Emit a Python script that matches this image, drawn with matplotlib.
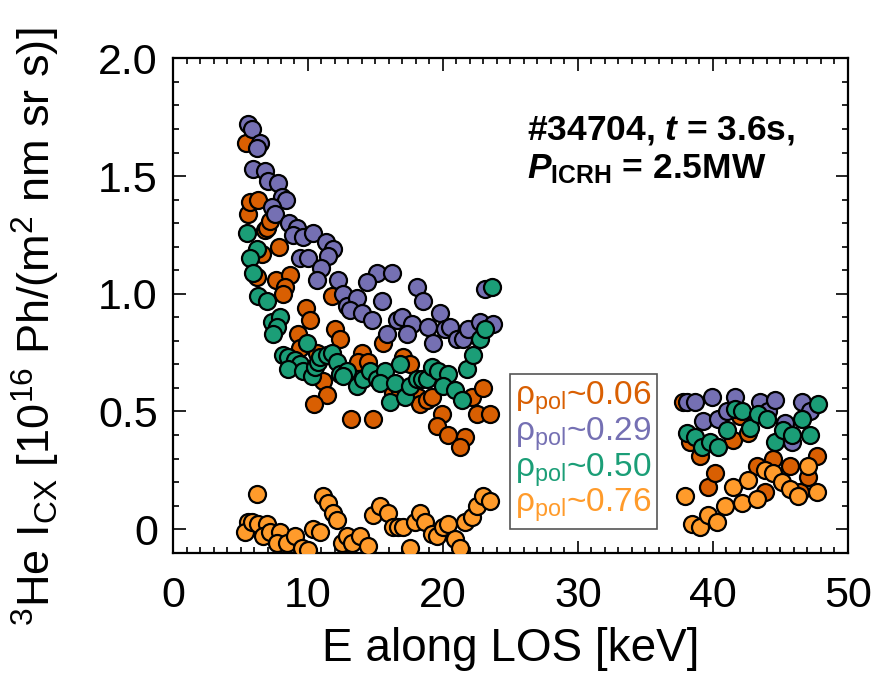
import matplotlib

matplotlib.use("Agg")
import matplotlib.pyplot as plt
from matplotlib.lines import Line2D
from matplotlib.ticker import MultipleLocator, FixedFormatter, FixedLocator

plt.rcParams["font.family"] = ["Liberation Sans", "DejaVu Sans"]
plt.rcParams["mathtext.fontset"] = "custom"
plt.rcParams["mathtext.rm"] = "Liberation Sans"
plt.rcParams["mathtext.it"] = "Liberation Sans:italic:bold"
plt.rcParams["mathtext.bf"] = "Liberation Sans:bold"

# rho_pol ~ 0.06
r06_x = [5.41, 5.56, 5.70, 6.30, 6.81, 6.96, 7.19, 6.59, 7.85, 6.22,
         7.63, 8.67, 8.30, 8.15, 9.85, 10.15, 9.26, 9.41, 10.67, 11.78,
         12.00, 12.37, 11.11, 11.41, 10.44, 13.20, 14.81, 14.00, 13.70, 14.44,
         15.56, 17.04, 17.56, 16.30, 16.81, 18.15, 18.30, 18.81, 19.19, 19.93,
         19.56, 20.37, 21.63, 21.26, 22.15, 22.96, 22.52, 23.48,
         37.78, 38.30, 39.04, 39.63, 40.15, 41.48, 42.00, 42.59, 43.26, 43.85,
         44.44, 45.70, 46.44, 47.04, 47.70]
r06_y = [1.64, 1.34, 1.39, 1.40, 1.27, 1.28, 1.31, 1.17, 1.20, 1.07,
         1.06, 1.08, 1.03, 1.00, 0.94, 0.89, 0.83, 0.77, 0.75, 0.99,
         0.85, 0.81, 0.63, 0.57, 0.53, 0.47, 0.47, 0.75, 0.71, 0.71,
         0.79, 0.73, 0.70, 0.58, 0.58, 0.56, 0.53, 0.55, 0.56, 0.49,
         0.44, 0.40, 0.39, 0.35, 0.56, 0.60, 0.49, 0.49,
         0.54, 0.37, 0.31, 0.18, 0.24, 0.38, 0.48, 0.41, 0.27, 0.16,
         0.30, 0.27, 0.16, 0.22, 0.31]

# rho_pol ~ 0.29
r29_x = [5.56, 5.85, 6.44, 6.22, 5.93, 6.81, 7.04, 7.78, 8.07, 8.37,
         7.33, 7.56, 8.59, 9.19, 8.89, 9.63, 10.37, 11.33, 11.85, 11.48,
         9.41, 10.00, 10.96, 10.67, 12.22, 12.59, 12.89, 15.11, 16.22, 14.37,
         18.07, 18.52, 13.63, 15.48, 13.11, 14.00, 14.74, 16.59, 16.96, 17.70,
         17.33, 15.85, 18.89, 19.78, 20.15, 20.52, 21.04, 21.48, 21.85, 22.74,
         23.70, 19.26, 23.11,
         38.07, 38.67, 39.93, 39.26, 40.37, 41.04, 41.63, 43.48, 44.07, 44.59,
         45.33, 45.85, 46.59, 47.19]
r29_y = [1.72, 1.70, 1.64, 1.62, 1.53, 1.52, 1.48, 1.47, 1.41, 1.40,
         1.37, 1.34, 1.30, 1.28, 1.25, 1.24, 1.26, 1.22, 1.19, 1.16,
         1.15, 1.15, 1.11, 1.06, 1.06, 1.00, 0.95, 1.09, 1.09, 1.05,
         1.03, 0.97, 0.98, 0.97, 0.93, 0.92, 0.89, 0.89, 0.90, 0.87,
         0.83, 0.83, 0.86, 0.92, 0.85, 0.86, 0.81, 0.81, 0.85, 0.88,
         0.87, 0.79, 1.02,
         0.54, 0.54, 0.56, 0.46, 0.47, 0.50, 0.56, 0.54, 0.50, 0.55,
         0.45, 0.37, 0.54, 0.50]

# rho_pol ~ 0.50
r50_x = [5.48, 6.22, 5.70, 5.93, 6.30, 6.96, 7.33, 7.93, 7.70, 7.41,
         8.15, 8.52, 9.04, 9.41, 9.93, 8.52, 9.63, 10.30, 10.52, 10.74,
         10.89, 11.41, 11.78, 12.15, 12.37, 12.89, 12.59, 13.63, 14.07, 14.59,
         15.11, 15.70, 15.33, 16.44, 16.81, 16.07, 17.19, 17.56, 18.07, 18.44,
         18.81, 19.19, 19.63, 20.37, 20.00, 20.89, 21.41, 21.78, 22.22, 22.74,
         23.11, 23.63,
         38.07, 38.67, 39.19, 39.78, 40.37, 41.04, 41.63, 42.15, 42.74, 43.33,
         44.00, 44.59, 45.19, 45.85, 46.59, 47.19, 47.78]
r50_y = [1.26, 1.19, 1.15, 1.09, 0.99, 0.97, 0.88, 0.90, 0.86, 0.83,
         0.74, 0.73, 0.72, 0.70, 0.79, 0.68, 0.67, 0.65, 0.69, 0.71,
         0.73, 0.74, 0.75, 0.71, 0.66, 0.67, 0.65, 0.61, 0.64, 0.67,
         0.64, 0.67, 0.62, 0.62, 0.70, 0.54, 0.56, 0.61, 0.64, 0.64,
         0.64, 0.69, 0.67, 0.66, 0.61, 0.59, 0.55, 0.68, 0.74, 0.81,
         0.85, 1.03,
         0.41, 0.39, 0.35, 0.37, 0.35, 0.42, 0.51, 0.50, 0.43, 0.49,
         0.47, 0.37, 0.42, 0.40, 0.47, 0.40, 0.53]

# rho_pol ~ 0.76
r76_x = [6.22, 5.56, 5.33, 5.85, 6.30, 6.96, 6.67, 7.19, 7.93, 7.70,
         8.44, 9.04, 9.56, 10.00, 10.37, 10.89, 11.11, 11.48, 11.85, 12.15,
         12.52, 12.89, 13.26, 13.85, 14.44, 14.81, 15.33, 15.93, 16.30, 16.67,
         17.04, 17.56, 17.93, 18.30, 18.67, 19.19, 19.56, 20.00, 20.37, 20.89,
         21.26, 21.63, 22.15, 22.52, 22.96, 23.48,
         37.93, 38.44, 39.04, 39.63, 40.30, 40.89, 41.48, 42.15, 42.59, 43.26,
         43.85, 44.44, 45.11, 45.70, 46.30, 47.04, 47.70]
r76_y = [0.15, 0.03, -0.01, 0.03, 0.02, 0.02, -0.03, -0.01, -0.01, -0.06,
         -0.06, -0.03, -0.08, -0.09, 0.00, -0.01, 0.14, 0.11, 0.07, 0.04,
         -0.06, -0.03, -0.06, -0.03, -0.07, 0.06, 0.10, 0.07, 0.01, 0.01,
         0.01, -0.08, 0.03, 0.07, 0.03, -0.02, -0.03, 0.01, 0.02, -0.04,
         -0.08, 0.03, 0.05, 0.10, 0.14, 0.12,
         0.14, 0.02, 0.01, 0.06, 0.03, 0.10, 0.18, 0.11, 0.21, 0.13,
         0.25, 0.24, 0.20, 0.17, 0.14, 0.27, 0.16]

series_labels = ["0.06", "0.29", "0.50", "0.76"]
series_colors = ["#D95F02", "#7570B3", "#1B9E77", "#FF9B2B"]

x_ticks = [0, 10, 20, 30, 40, 50]
x_tick_labels = ["0", "10", "20", "30", "40", "50"]
y_ticks = [0.0, 0.5, 1.0, 1.5, 2.0]
y_tick_labels = ["0", "0.5", "1.0", "1.5", "2.0"]

fig = plt.figure(figsize=(8.83, 6.79), dpi=100)
ax = fig.add_axes([0.196, 0.186, 0.764, 0.728])

series = [(r06_x, r06_y), (r29_x, r29_y), (r50_x, r50_y), (r76_x, r76_y)]
for i, ((xs, ys), color) in enumerate(zip(series, series_colors)):
    ax.scatter(xs, ys, s=150, c=color, edgecolors="black", linewidths=1.6,
               zorder=3 + i)

ax.set_xlim(0, 50)
ax.set_ylim(-0.1, 2.0)
ax.xaxis.set_major_locator(FixedLocator(x_ticks))
ax.xaxis.set_major_formatter(FixedFormatter(x_tick_labels))
ax.xaxis.set_minor_locator(MultipleLocator(1))
ax.yaxis.set_major_locator(FixedLocator(y_ticks))
ax.yaxis.set_major_formatter(FixedFormatter(y_tick_labels))
ax.yaxis.set_minor_locator(MultipleLocator(0.1))

ax.tick_params(which="both", direction="in", top=True, right=True, width=1.2,
               labelsize=31)
ax.tick_params(which="major", length=9)
ax.tick_params(which="minor", length=4.5)
ax.tick_params(axis="x", pad=17)
ax.tick_params(axis="y", pad=11)
for spine in ax.spines.values():
    spine.set_linewidth(1.6)

ax.set_xlabel("E along LOS [keV]", fontsize=33)
ax.xaxis.set_label_coords(0.5, -0.15)
ax.set_ylabel(r"$^{\mathrm{3}}$He I$_{\mathrm{CX}}$ [10$^{\mathrm{16}}$ "
              r"Ph/(m$^{\mathrm{2}}$ nm sr s)]", fontsize=32.5)
ax.yaxis.set_label_coords(-0.165, 0.457)

ax.text(0.524, 0.835, "#34704, $t$ = 3.6s,", transform=ax.transAxes,
        fontsize=25.5, fontweight="bold", ha="left", va="baseline")
ax.text(0.524, 0.758, r"$P_{\mathbf{ICRH}}$ = 2.5MW", transform=ax.transAxes,
        fontsize=25.5, fontweight="bold", ha="left", va="baseline")

handles = [Line2D([], [], linestyle="none") for _ in series_labels]
labels = [r"ρ$_{\mathrm{pol}}$~" + lab for lab in series_labels]
leg = ax.legend(handles, labels, loc="lower left", bbox_to_anchor=(0.50, 0.047),
                borderaxespad=0, handlelength=0, handletextpad=0,
                labelcolor=series_colors, fontsize=24, frameon=True,
                fancybox=False, edgecolor="#555555", framealpha=1,
                borderpad=0.15, labelspacing=-0.05)
leg.get_frame().set_linewidth(1.2)
leg.set_zorder(10)

fig.savefig("out.png", dpi=100)
plt.close(fig)
